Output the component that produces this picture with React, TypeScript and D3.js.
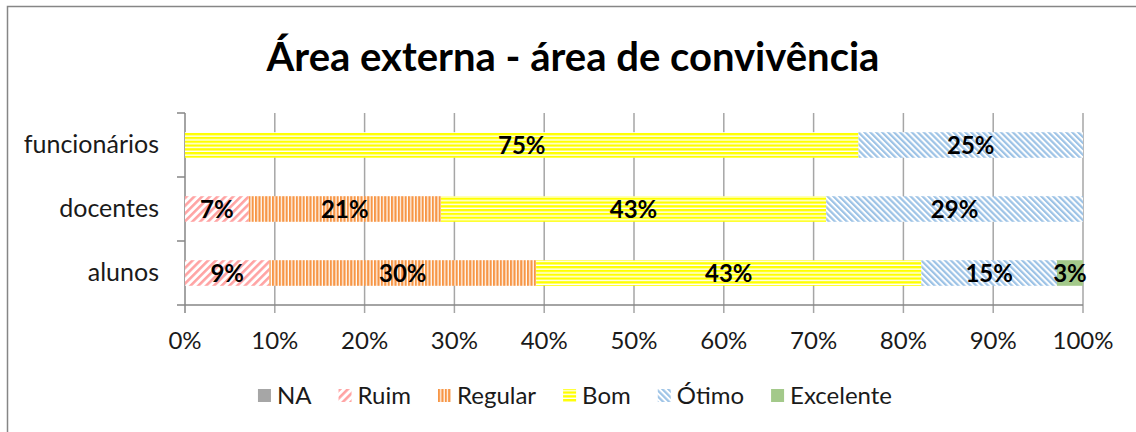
import * as React from 'react'
import {useRef, useEffect} from 'react'
import * as d3 from 'd3'

const categories = ['funcionários', 'docentes', 'alunos']
const levels = ['NA', 'Ruim', 'Regular', 'Bom', 'Ótimo', 'Excelente']
const naValues = [0, 0, 0]
const ruimValues = [0, 7.1, 9.4]
const regularValues = [0, 21.4, 29.7]
const bomValues = [75, 42.9, 42.9]
const otimoValues = [25, 28.6, 15.1]
const excelenteValues = [0, 0, 2.9]
const xTicks = [0, 10, 20, 30, 40, 50, 60, 70, 80, 90, 100]

const W = 1136
const H = 432
const FONT = 'Lato, "Open Sans", sans-serif'

const App = () => {
    const chartRef = useRef(null)

    useEffect(() => {
        const svg = d3.select(chartRef.current)
        svg.selectAll('*').remove()

        const rows = categories.map((c, i) => ({
            cat: c,
            NA: naValues[i],
            Ruim: ruimValues[i],
            Regular: regularValues[i],
            Bom: bomValues[i],
            'Ótimo': otimoValues[i],
            Excelente: excelenteValues[i]
        }))
        const series = d3.stack().keys(levels)(rows)

        const x = d3.scaleLinear().domain([0, 100]).range([185, 1083])
        const y = d3.scaleBand().domain(categories).range([113, 305]).paddingInner(0.6).paddingOuter(0.3)

        // patterns
        const defs = svg.append('defs')
        const stripes = (id, color, size, stroke, angle) => {
            const p = defs.append('pattern')
                .attr('id', id)
                .attr('patternUnits', 'userSpaceOnUse')
                .attr('width', size)
                .attr('height', size)
                .attr('patternTransform', `rotate(${angle})`)
            p.append('rect').attr('width', size).attr('height', size).attr('fill', '#fff')
            p.append('rect').attr('width', stroke).attr('height', size).attr('fill', color)
        }
        stripes('p-ruim', '#ffa3a3', 5.5, 2.6, 45)
        stripes('p-regular', '#f79646', 3.4, 2.2, 0)
        stripes('p-bom', '#ffff00', 3.8, 2.4, 90)
        stripes('p-otimo', '#9dc3e6', 4.2, 2.2, -45)

        const fills = {
            NA: '#a6a6a6',
            Ruim: 'url(#p-ruim)',
            Regular: 'url(#p-regular)',
            Bom: 'url(#p-bom)',
            'Ótimo': 'url(#p-otimo)',
            Excelente: '#a3c98a'
        }

        // frame
        svg.append('rect')
            .attr('x', 7.5).attr('y', 6.5)
            .attr('width', 1300).attr('height', 600)
            .attr('fill', '#fff').attr('stroke', '#868686').attr('stroke-width', 1.5)

        svg.append('text')
            .attr('x', 573).attr('y', 71)
            .attr('text-anchor', 'middle')
            .style('font-family', FONT)
            .style('font-weight', 'bold')
            .style('font-size', '40px')
            .text('Área externa - área de convivência')

        // gridlines
        svg.selectAll('.grid')
            .data(xTicks.slice(1))
            .enter()
            .append('line')
            .attr('x1', d => x(d)).attr('x2', d => x(d))
            .attr('y1', 113).attr('y2', 313)
            .attr('stroke', '#a6a6a6').attr('stroke-width', 1.5)

        // axes
        svg.append('line')
            .attr('x1', 185).attr('x2', 1083).attr('y1', 305).attr('y2', 305)
            .attr('stroke', '#868686').attr('stroke-width', 1.5)
        svg.append('line')
            .attr('x1', 185).attr('x2', 185).attr('y1', 113).attr('y2', 313)
            .attr('stroke', '#868686').attr('stroke-width', 1.5)
        svg.selectAll('.ytick')
            .data([113, 177, 241, 305])
            .enter()
            .append('line')
            .attr('x1', 177).attr('x2', 185)
            .attr('y1', d => d).attr('y2', d => d)
            .attr('stroke', '#868686').attr('stroke-width', 1.5)

        svg.selectAll('.xlabel')
            .data(xTicks)
            .enter()
            .append('text')
            .attr('x', d => x(d))
            .attr('y', 349)
            .attr('text-anchor', 'middle')
            .style('font-family', FONT)
            .style('font-size', '24px')
            .attr('fill', '#1a1a1a')
            .text(d => d + '%')

        svg.selectAll('.ylabel')
            .data(categories)
            .enter()
            .append('text')
            .attr('x', 159)
            .attr('y', d => y(d) + y.bandwidth() / 2 + 8)
            .attr('text-anchor', 'end')
            .style('font-family', FONT)
            .style('font-size', '25px')
            .attr('fill', '#1a1a1a')
            .text(d => d)

        // bars
        series.forEach(s => {
            svg.selectAll(null)
                .data(s)
                .enter()
                .append('rect')
                .attr('x', d => x(d[0]))
                .attr('y', d => y(d.data.cat))
                .attr('width', d => x(d[1]) - x(d[0]))
                .attr('height', y.bandwidth())
                .attr('fill', fills[s.key])
        })

        series.forEach(s => {
            svg.selectAll(null)
                .data(s.filter(d => d[1] - d[0] > 0))
                .enter()
                .append('text')
                .attr('x', d => (x(d[0]) + x(d[1])) / 2)
                .attr('y', d => y(d.data.cat) + y.bandwidth() / 2 + 9)
                .attr('text-anchor', 'middle')
                .style('font-family', FONT)
                .style('font-weight', 'bold')
                .style('font-size', '24px')
                .text(d => Math.round(d[1] - d[0]) + '%')
        })

        // legend
        const legend = svg.append('g')
        let lx = 0
        levels.forEach(k => {
            const g = legend.append('g').attr('transform', `translate(${lx},0)`)
            g.append('rect')
                .attr('x', 0).attr('y', 389).attr('width', 13).attr('height', 13)
                .attr('fill', fills[k])
            const t = g.append('text')
                .attr('x', 19).attr('y', 404)
                .style('font-family', FONT)
                .style('font-size', '24px')
                .attr('fill', '#1a1a1a')
                .text(k)
            const tw = t.node().getComputedTextLength()
            lx += 19 + tw + 27
        })
        const total = lx - 27
        legend.attr('transform', `translate(${575 - total / 2},0)`)
    }, [])

    return (
        <div style={{position: 'absolute', left: 0, top: 0}}>
            <svg ref={chartRef} width={W} height={H} style={{display: 'block'}}></svg>
        </div>
    )
}

export default App
